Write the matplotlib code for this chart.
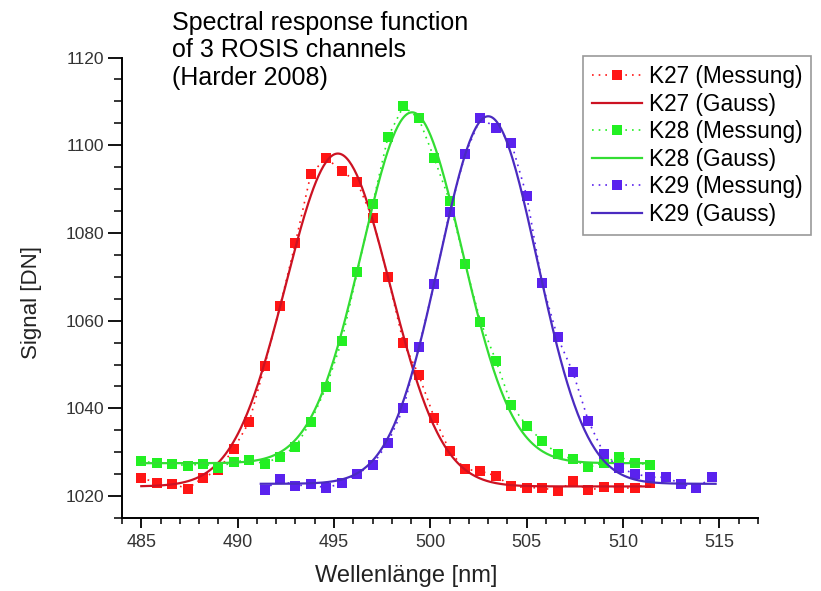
import numpy as np
import matplotlib
matplotlib.use('Agg')
import matplotlib.pyplot as plt
from matplotlib.ticker import MultipleLocator

plt.rcParams['font.family'] = ['Liberation Sans', 'DejaVu Sans']

wl_k27 = [485.0, 485.8, 486.6, 487.4, 488.2, 489.0, 489.8, 490.6, 491.4, 492.2,
          493.0, 493.8, 494.6, 495.4, 496.2, 497.0, 497.8, 498.6, 499.4, 500.2,
          501.0, 501.8, 502.6, 503.4, 504.2, 505.0, 505.8, 506.6, 507.4, 508.2,
          509.0, 509.8, 510.6, 511.4]
sig_k27 = [1024.2, 1023.0, 1022.8, 1021.7, 1024.2, 1025.9, 1030.8, 1036.9, 1049.7, 1063.3,
           1077.8, 1093.5, 1097.1, 1094.1, 1091.6, 1083.3, 1069.9, 1055.0, 1047.6, 1037.9,
           1030.3, 1026.1, 1025.7, 1024.6, 1022.3, 1021.9, 1021.9, 1021.1, 1023.4, 1021.3,
           1022.1, 1021.9, 1021.8, 1023.0]

wl_k28 = wl_k27
sig_k28 = [1027.9, 1027.6, 1027.4, 1026.9, 1027.4, 1026.5, 1027.8, 1028.2, 1027.4, 1029.0,
           1031.2, 1037.0, 1044.9, 1055.3, 1071.0, 1086.5, 1101.9, 1108.9, 1106.1, 1097.0,
           1087.3, 1073.0, 1059.8, 1050.9, 1040.8, 1036.0, 1032.6, 1029.5, 1028.4, 1026.6,
           1027.6, 1029.0, 1027.5, 1027.2]

wl_k29 = [491.4, 492.2, 493.0, 493.8, 494.6, 495.4, 496.2, 497.0, 497.8, 498.6,
          499.4, 500.2, 501.0, 501.8, 502.6, 503.4, 504.2, 505.0, 505.8, 506.6,
          507.4, 508.2, 509.0, 509.8, 510.6, 511.4, 512.2, 513.0, 513.8, 514.6]
sig_k29 = [1021.5, 1023.8, 1022.3, 1022.7, 1021.8, 1023.0, 1025.1, 1027.1, 1032.2, 1040.0,
           1053.9, 1068.4, 1084.8, 1097.9, 1106.2, 1104.0, 1100.6, 1088.4, 1068.5, 1056.2,
           1048.2, 1037.1, 1029.7, 1026.4, 1025.1, 1024.3, 1024.3, 1022.8, 1021.8, 1024.3]

# Gauss fit parameters: offset, amplitude, centre, sigma, fit range
fit_k27 = (1022.2, 75.9, 495.2, 2.70, 485.0, 511.4)
fit_k28 = (1027.5, 80.0, 499.05, 2.60, 485.0, 511.4)
fit_k29 = (1022.8, 83.8, 503.0, 2.55, 491.2, 514.8)

channels = ['K27', 'K28', 'K29']
marker_colors = ['#ff1616', '#22f022', '#5a22ee']
line_colors = ['#cc1222', '#33dd33', '#4a2bc0']


def gauss_curve(p):
    y0, a, xc, s, x0, x1 = p
    x = np.linspace(x0, x1, 400)
    return x, y0 + a * np.exp(-(x - xc) ** 2 / (2 * s ** 2))


fig = plt.figure(figsize=(8.21, 5.91), dpi=100)
ax = fig.add_axes([0.1486, 0.1235, 0.7747, 0.7792])

meas = [(wl_k27, sig_k27), (wl_k28, sig_k28), (wl_k29, sig_k29)]
fits = [fit_k27, fit_k28, fit_k29]
for name, (wx, wy), fp, mc, lc in zip(channels, meas, fits, marker_colors, line_colors):
    ax.plot(wx, wy, linestyle=(0, (1, 3)), lw=1.2, color=mc, marker='s',
            markersize=7, markeredgewidth=0, label=f'{name} (Messung)')
    gx, gy = gauss_curve(fp)
    ax.plot(gx, gy, '-', lw=1.6, color=lc, label=f'{name} (Gauss)')

ax.set_xlim(484, 517)
ax.set_ylim(1015, 1120)
ax.xaxis.set_major_locator(MultipleLocator(5))
ax.xaxis.set_minor_locator(MultipleLocator(1))
ax.yaxis.set_major_locator(MultipleLocator(20))
ax.yaxis.set_minor_locator(MultipleLocator(5))

for s in ['top', 'right']:
    ax.spines[s].set_visible(False)
for s in ['left', 'bottom']:
    ax.spines[s].set_linewidth(1.4)

ax.tick_params(axis='x', which='major', direction='out', length=7.5, width=1.3,
               labelsize=13, labelcolor='#333333', pad=4)
ax.tick_params(axis='x', which='minor', direction='out', length=4, width=1.1)
ax.tick_params(axis='y', which='major', direction='out', length=10, width=1.3,
               labelsize=12.5, labelcolor='#333333', pad=3)
ax.tick_params(axis='y', which='minor', direction='out', length=6, width=1.1)

ax.set_xlabel('Wellenlänge [nm]', fontsize=17, color='#222222')
ax.set_ylabel('Signal [DN]', fontsize=16, color='#222222')
ax.xaxis.set_label_coords(0.447, -0.103)
ax.yaxis.set_label_coords(-0.125, 0.467)

fig.text(172 / 821, 1 - 11 / 591, 'Spectral response function\nof 3 ROSIS channels\n(Harder 2008)',
         fontsize=18, va='top', ha='left', linespacing=1.18)

leg = ax.legend(loc='upper left', bbox_to_anchor=(583 / 821, 1 - 56 / 591),
                bbox_transform=fig.transFigure, fontsize=16.3, numpoints=1,
                handlelength=2.2, handletextpad=0.3, labelspacing=0.2,
                borderpad=0.4, borderaxespad=0, fancybox=False, framealpha=1)
leg.get_frame().set_edgecolor('#999999')
leg.get_frame().set_linewidth(1.2)

fig.savefig('out.png', dpi=100)
